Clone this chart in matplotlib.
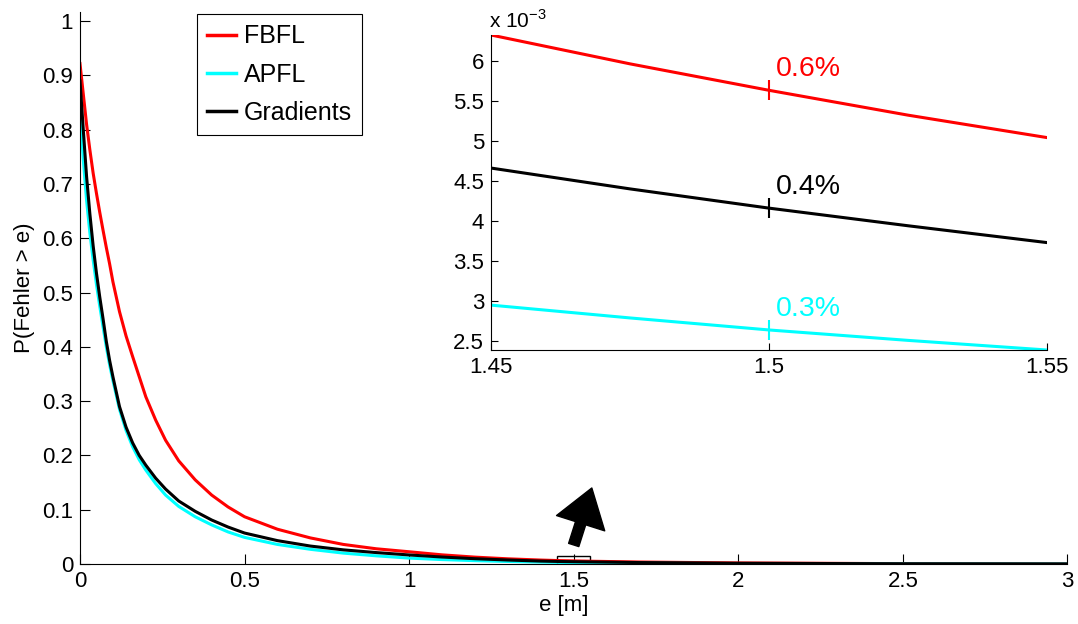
import numpy as np
import matplotlib
matplotlib.use("Agg")
import matplotlib.pyplot as plt
from matplotlib.ticker import FuncFormatter, FormatStrFormatter
from matplotlib.patches import Rectangle

plt.rcParams['font.family'] = ['Liberation Sans', 'DejaVu Sans']
plt.rcParams['mathtext.fontset'] = 'custom'
plt.rcParams['mathtext.rm'] = 'Liberation Sans'

# error threshold e [m]
e = [0, 0.01, 0.02, 0.03, 0.04, 0.05, 0.06, 0.07, 0.08, 0.09, 0.1, 0.12, 0.14, 0.16,
     0.18, 0.2, 0.23, 0.26, 0.3, 0.35, 0.4, 0.45, 0.5, 0.6, 0.7, 0.8, 0.9, 1.0, 1.1,
     1.2, 1.3, 1.4, 1.45, 1.475, 1.5, 1.525, 1.55, 1.7, 2.0, 2.5, 3.0]

# P(Fehler > e) per method
p_fbfl = [0.922, 0.866, 0.81, 0.763, 0.72, 0.683, 0.648, 0.615, 0.583, 0.553, 0.52,
          0.465, 0.42, 0.382, 0.345, 0.308, 0.265, 0.228, 0.19, 0.155, 0.127, 0.105,
          0.087, 0.064, 0.048, 0.036, 0.028, 0.0225, 0.0168, 0.0126, 0.0095, 0.0072,
          0.00632, 0.00596, 0.00563, 0.00532, 0.00504, 0.0036, 0.0019, 0.0006, 0.0002]
p_apfl = [0.84, 0.745, 0.67, 0.61, 0.56, 0.515, 0.475, 0.437, 0.40, 0.367, 0.338,
          0.285, 0.246, 0.216, 0.192, 0.173, 0.148, 0.127, 0.106, 0.087, 0.072, 0.059,
          0.049, 0.036, 0.027, 0.02, 0.015, 0.0108, 0.0081, 0.0061, 0.0046, 0.0034,
          0.00295, 0.00279, 0.00264, 0.00251, 0.00239, 0.0016, 0.0007, 0.0002, 0.00005]
p_grad = [0.89, 0.80, 0.714, 0.645, 0.586, 0.536, 0.492, 0.452, 0.41, 0.375, 0.345,
          0.29, 0.252, 0.223, 0.2, 0.182, 0.158, 0.138, 0.116, 0.097, 0.081, 0.068,
          0.057, 0.043, 0.033, 0.026, 0.021, 0.0166, 0.0128, 0.0097, 0.0073, 0.0053,
          0.00466, 0.0044, 0.00416, 0.00394, 0.00373, 0.0026, 0.0013, 0.0004, 0.0001]

labels = ['FBFL', 'APFL', 'Gradients']
colors = ['red', 'cyan', 'black']
series = [p_fbfl, p_apfl, p_grad]

# value at e = 1.5 and its label in the zoomed view
e_mark = 1.5
mark_text = ['0.6%', '0.3%', '0.4%']

fig = plt.figure(figsize=(10.78, 6.24), dpi=100)
ax = fig.add_axes([0.0742, 0.0962, 0.9160, 0.8846])

for y, c, lab in zip(series, colors, labels):
    ax.plot(e, y, color=c, lw=2.2, label=lab)

ax.set_xlim(0, 3)
ax.set_ylim(0, 1.017)
ax.set_xticks(np.arange(0, 3.01, 0.5))
ax.set_yticks(np.arange(0, 1.01, 0.1))
ax.xaxis.set_major_formatter(FormatStrFormatter('%g'))
ax.yaxis.set_major_formatter(FuncFormatter(lambda v, p: '%g' % round(v, 2)))
ax.tick_params(direction='in', length=7, width=0.8, labelsize=16, pad=5)
for s in ['top', 'right']:
    ax.spines[s].set_visible(False)
ax.set_xlabel('e [m]', fontsize=16, labelpad=0)
ax.set_ylabel('P(Fehler > e)', fontsize=16)
ax.yaxis.set_label_coords(-0.046, 0.5)
ax.xaxis.set_label_coords(0.49, -0.057)

leg = ax.legend(loc='upper left', bbox_to_anchor=(0.1827, 0.9776),
                bbox_transform=fig.transFigure, fontsize=18, fancybox=False,
                framealpha=1, edgecolor='black', handlelength=1.15,
                handletextpad=0.3, labelspacing=0.57, borderpad=0.42, borderaxespad=0)
leg.get_frame().set_linewidth(0.8)
for h in leg.legend_handles:
    h.set_linewidth(2.5)

# zoom window and arrow towards the inset
ax.add_patch(Rectangle((1.45, 0), 0.1, 0.014, fill=False, edgecolor='black', lw=1))
ax.annotate('', xy=(1.555, 0.14), xytext=(1.50, 0.035),
            arrowprops=dict(arrowstyle='simple, head_length=1.9, head_width=2.6, tail_width=0.55',
                            mutation_scale=14, color='black', shrinkA=0, shrinkB=0))

# inset around e = 1.5
axin = fig.add_axes([0.4555, 0.4391, 0.5158, 0.5048])
for y, c, t in zip(series, colors, mark_text):
    axin.plot(e, y, color=c, lw=2.2)
    ym = y[e.index(e_mark)]
    axin.plot([e_mark], [ym], marker='|', markersize=14, mew=1.5, color=c)
    axin.annotate(t, (e_mark, ym), xytext=(5, 10), textcoords='offset points',
                  ha='left', va='baseline', fontsize=20.5, color=c)
axin.set_xlim(1.45, 1.55)
axin.set_ylim(0.00239, 0.00632)
axin.set_xticks([1.45, 1.5, 1.55])
axin.set_yticks(np.arange(0.0025, 0.0061, 0.0005))
axin.xaxis.set_major_formatter(FormatStrFormatter('%g'))
axin.yaxis.set_major_formatter(FuncFormatter(lambda v, p: '%g' % round(v * 1e3, 2)))
axin.tick_params(direction='in', length=5, width=0.8, labelsize=16, pad=5)
for s in ['top', 'right']:
    axin.spines[s].set_visible(False)
axin.text(-0.003, 1.01, r'x 10$^{\mathrm{-3}}$', transform=axin.transAxes,
          ha='left', va='bottom', fontsize=15)

fig.savefig('out.png', dpi=100)
